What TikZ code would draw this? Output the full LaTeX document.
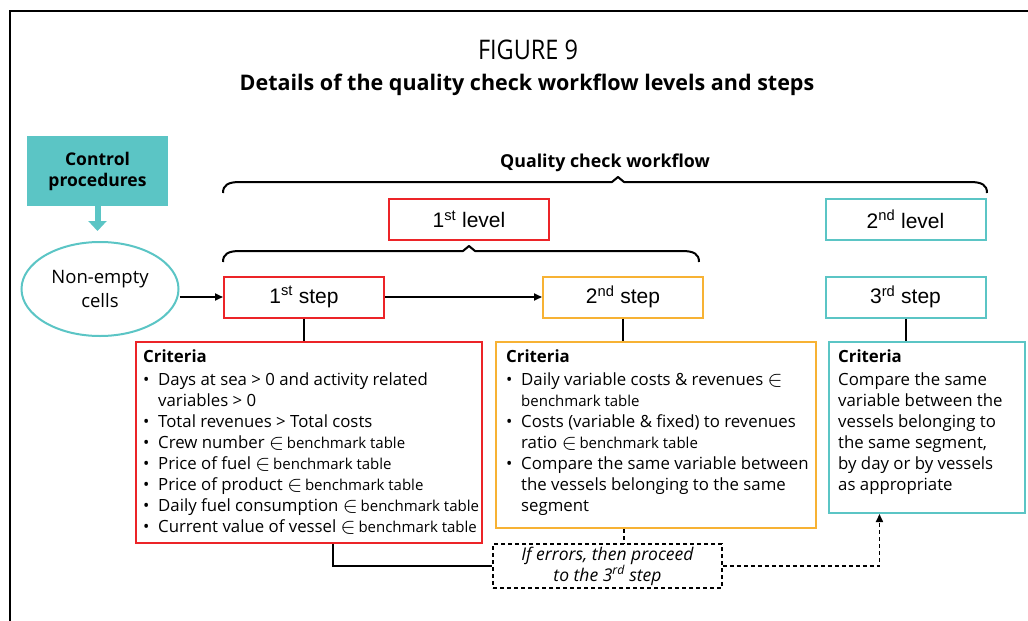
\documentclass[tikz,border=0pt]{standalone}
\usepackage{graphicx}
\usepackage{fontspec}
\setmainfont{Open Sans}
\newfontfamily\arialfont{Liberation Sans}
\usetikzlibrary{arrows.meta,calc,shapes.geometric}

\definecolor{qteal}{RGB}{91,197,197}
\definecolor{qred}{RGB}{236,36,40}
\definecolor{qorange}{RGB}{247,178,52}

% "element of benchmark table", set a little smaller
\newcommand{\elemof}{{\fontsize{17}{21}\selectfont\raisebox{-0.5pt}{\scalebox{1.3}{$\in$}}}}
\newcommand{\benchtab}{\elemof\,{\fontsize{15}{21}\selectfont benchmark table}}
\newcommand{\bul}{\makebox[15pt][l]{\textbullet}}

\tikzset{
  stepbox/.style={draw, line width=2pt, minimum width=160pt, minimum height=41pt,
    inner sep=0pt, font=\arialfont\fontsize{21}{24}\selectfont},
  critbox/.style={draw, line width=2pt, inner sep=0pt},
  crittext/.style={anchor=north west, inner sep=0pt, align=left,
    font=\fontsize{16.8}{21}\selectfont},
  link/.style={line width=2pt},
  arr/.style={line width=1.8pt, -{Triangle[length=8pt,width=7pt]}},
  brace/.style={line width=2pt, line join=round},
  errline/.style={line width=1.6pt, dash pattern=on 4pt off 3pt},
}

\begin{document}
\begin{tikzpicture}[x=1pt,y=-1pt]
\useasboundingbox (0,0) rectangle (1028,621);

% page frame
\draw[line width=1.5pt] (10,621) -- (10,11) -- (1028,11);

% titles
\node (fig) at (528,50) {\fontsize{27}{30}\selectfont\scalebox{0.87}[1]{FIGURE 9}};
\node (sub) at (527,85) {\fontsize{21.5}{24}\selectfont\bfseries Details of the quality check workflow levels and steps};

% control procedures and input cells
\node[fill=qteal, minimum width=141pt, minimum height=70pt, inner sep=0pt, align=center,
  font=\fontsize{17.5}{21}\selectfont\bfseries] (ctrl) at (97.5,171) {Control\\procedures};
\coordinate (ctip) at (97.5,231);
\draw[qteal, line width=6pt, -{Triangle[length=10pt,width=18pt]}] (ctrl.south) -- (ctip);
\node[ellipse, draw=qteal, line width=2pt, minimum width=157pt, minimum height=94pt,
  inner sep=0pt, align=center, font=\fontsize{18.5}{24}\selectfont] (ne) at (100,289) {Non-empty\\cells};

% workflow braces
\node[font=\fontsize{17.8}{20}\selectfont\bfseries] (qcw) at (605,163) {Quality check workflow};
\draw[brace] (223,193) .. controls (223,185) and (228,182) .. (240,182) -- (612,182)
  -- (618,177) -- (624,182) -- (970,182) .. controls (982,182) and (987,185) .. (987,193);
\draw[brace] (223,262) .. controls (223,254) and (228,251) .. (240,251) -- (463,251)
  -- (469,246) -- (475,251) -- (682,251) .. controls (694,251) and (699,254) .. (699,262);

% levels
\node[stepbox, draw=qred]  (l1) at (469,219.5)   {1\textsuperscript{st} level};
\node[stepbox, draw=qteal] (l2) at (905.5,219.5) {2\textsuperscript{nd} level};

% steps
\node[stepbox, draw=qred]    (s1) at (304,297)   {1\textsuperscript{st} step};
\node[stepbox, draw=qorange] (s2) at (623,297)   {2\textsuperscript{nd} step};
\node[stepbox, draw=qteal]   (s3) at (905.5,297) {3\textsuperscript{rd} step};

\draw[arr] (s1.west -| ne.east) -- (s1.west);
\draw[arr] (s1.east) -- (s2.west);

% criteria boxes
\node[critbox, draw=qred,    minimum width=346pt, minimum height=201pt] (c1) at (309,442.5) {};
\node[critbox, draw=qorange, minimum width=320pt, minimum height=186pt] (c2) at (656,435) {};
\node[critbox, draw=qteal,   minimum width=196pt, minimum height=171pt] (c3) at (927,427.5) {};

\node[crittext] (t1) at (143,348) {%
\begin{tabular}{@{}l@{}}
\textbf{Criteria}\\[2pt]
\bul Days at sea > 0 and activity related\\
\hspace{15pt}variables > 0\\
\bul Total revenues > Total costs\\
\bul Crew number \benchtab\\
\bul Price of fuel \benchtab\\
\bul Price of product \benchtab\\
\bul Daily fuel consumption \benchtab\\
\bul Current value of vessel \benchtab
\end{tabular}};

\node[crittext] (t2) at (506,348) {%
\begin{tabular}{@{}l@{}}
\textbf{Criteria}\\[2pt]
\bul Daily variable costs \& revenues \elemof\\
\hspace{15pt}{\fontsize{15}{21}\selectfont benchmark table}\\
\bul Costs (variable \& fixed) to revenues\\
\hspace{15pt}ratio \benchtab\\
\bul Compare the same variable between\\
\hspace{15pt}the vessels belonging to the same\\
\hspace{15pt}segment
\end{tabular}};

\node[crittext] (t3) at (838,348) {%
\begin{tabular}{@{}l@{}}
\textbf{Criteria}\\[2pt]
Compare the same\\
variable between the\\
vessels belonging to\\
the same segment,\\
by day or by vessels\\
as appropriate
\end{tabular}};

% step to criteria links
\draw[link] (s1.south) -- (s1.south |- c1.north);
\draw[link] (s2.south) -- (s2.south |- c2.north);
\draw[link] (s3.south) -- (s3.south |- c3.north);

% error routing to the third step
\node[draw, errline, minimum width=229pt, minimum height=44pt, inner sep=0pt, align=center,
  font=\fontsize{17.5}{21}\selectfont\itshape] (err) at (607.5,566)
  {If errors, then proceed\\to the 3\textsuperscript{rd} step};
\coordinate (c1out) at ($(c1.south west)!0.57!(c1.south east)$);
\coordinate (c2out) at ($(c2.south west)!0.40!(c2.south east)$);
\coordinate (c3in)  at ($(c3.south west)!0.26!(c3.south east)$);
\draw[link] (c1out) |- (err.west);
\draw[errline] (c2out) -- (c2out |- err.north);
\draw[errline, -{Triangle[length=8pt,width=7pt]}] (err.east) -| (c3in);

\end{tikzpicture}
\end{document}
